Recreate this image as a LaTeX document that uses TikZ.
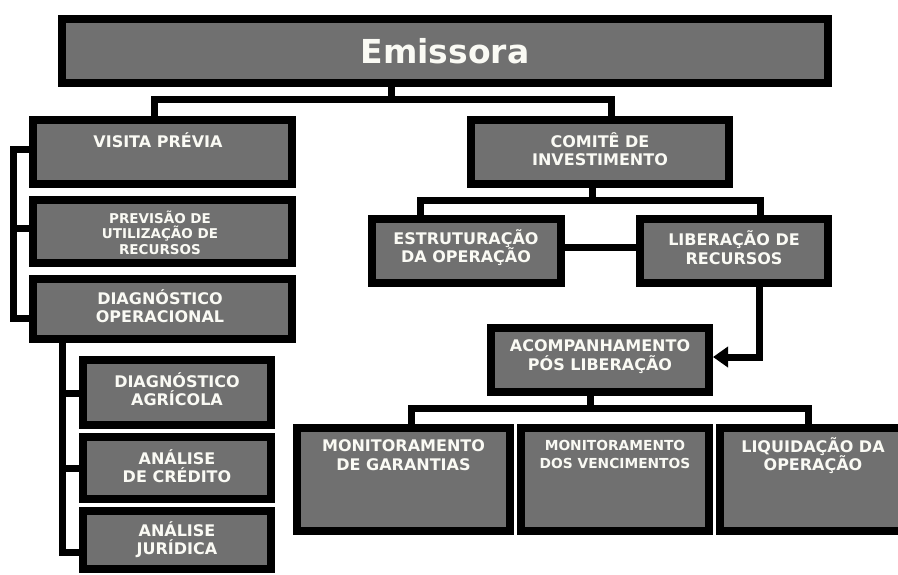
\documentclass[tikz,border=0pt]{standalone}
\usepackage{fontspec}
\setmainfont{DejaVu Sans}
\usetikzlibrary{arrows.meta}
\definecolor{boxgray}{RGB}{112,112,112}
\definecolor{labelwhite}{RGB}{250,250,244}
\tikzset{
  box/.style={draw=black, line width=8pt, fill=boxgray, inner sep=0pt},
  lbl/.style={text=labelwhite, font=\bfseries\fontsize{16}{18.5}\selectfont, align=center, inner sep=0pt},
  lblsmall/.style={lbl, font=\bfseries\fontsize{13.5}{15.5}\selectfont},
  lblmid/.style={lbl, font=\bfseries\fontsize{13.8}{18}\selectfont},
  conn/.style={draw=black, line width=7pt},
  arrowconn/.style={conn, -{Triangle[length=15pt,width=20pt]}}
}
\begin{document}
\begin{tikzpicture}[x=1pt, y=-1pt]
\useasboundingbox (0,0) rectangle (898,574);
\clip (0,0) rectangle (898,574);

% ---- boxes ----
\node[box, minimum width=766pt, minimum height=64pt] (emissora) at (445,51) {};
\node[box, minimum width=259pt, minimum height=64pt] (visita)   at (162.5,152) {};
\node[box, minimum width=259pt, minimum height=63pt] (previsao) at (162.5,231.5) {};
\node[box, minimum width=259pt, minimum height=60pt] (diagop)   at (162.5,309) {};
\node[box, minimum width=188pt, minimum height=65pt] (diagagr)  at (177,392.5) {};
\node[box, minimum width=188pt, minimum height=62pt] (credito)  at (177,468) {};
\node[box, minimum width=188pt, minimum height=58pt] (juridica) at (177,540) {};
\node[box, minimum width=258pt, minimum height=64pt] (comite)   at (600,152) {};
\node[box, minimum width=189pt, minimum height=64pt] (estrut)   at (466.5,251) {};
\node[box, minimum width=188pt, minimum height=64pt] (libera)   at (734,251) {};
\node[box, minimum width=218pt, minimum height=64pt] (acomp)    at (600,360) {};
\node[box, minimum width=213pt, minimum height=103pt] (monigar) at (403.5,479.5) {};
\node[box, minimum width=188pt, minimum height=103pt] (monivenc) at (615,479.5) {};
\node[box, minimum width=186pt, minimum height=103pt] (liquid)  at (813,479.5) {};

% ---- labels ----
\node[lbl, font=\bfseries\fontsize{33}{36}\selectfont] (emissora-t) at (445,51) {Emissora};
\node[lbl] (visita-t) at (158,140) {VISITA PRÉVIA};
\node[lblsmall] (previsao-t) at (160,232.5) {PREVISÃO DE\\UTILIZAÇÃO DE\\RECURSOS};
\node[lbl] (diagop-t) at (160,306) {DIAGNÓSTICO\\OPERACIONAL};
\node[lbl] (diagagr-t) at (177,389) {DIAGNÓSTICO\\AGRÍCOLA};
\node[lbl] (credito-t) at (177,466) {ANÁLISE\\DE CRÉDITO};
\node[lbl] (juridica-t) at (177,539.5) {ANÁLISE\\JURÍDICA};
\node[lbl] (comite-t) at (600,149) {COMITÊ DE\\INVESTIMENTO};
\node[lbl] (estrut-t) at (466,247.5) {ESTRUTURAÇÃO\\DA OPERAÇÃO};
\node[lbl] (libera-t) at (734,247.5) {LIBERAÇÃO DE\\RECURSOS};
\node[lbl] (acomp-t) at (600,356.5) {ACOMPANHAMENTO\\PÓS LIBERAÇÃO};
\node[lbl] (monigar-t) at (403.5,455) {MONITORAMENTO\\DE GARANTIAS};
\node[lblmid] (monivenc-t) at (615,454) {MONITORAMENTO\\DOS VENCIMENTOS};
\node[lbl] (liquid-t) at (813,455.5) {LIQUIDAÇÃO DA\\OPERAÇÃO};

% ---- bend points of the connectors ----
\coordinate (e0) at (391,99);
\coordinate (e1) at (154,99);
\coordinate (e2) at (611,99);
\coordinate (b1) at (13,149);
\coordinate (b2) at (13,228);
\coordinate (b3) at (13,318);
\coordinate (c0) at (62,343);
\coordinate (c1) at (62,393);
\coordinate (c2) at (62,468);
\coordinate (c3) at (62,552);
\coordinate (k0) at (592,200);
\coordinate (k1) at (420,200);
\coordinate (k2) at (760,200);
\coordinate (h0) at (565,247);
\coordinate (a1) at (759,357);
\coordinate (m0) at (590,408);
\coordinate (m1) at (411,408);
\coordinate (m2) at (808,408);

% ---- connectors ----
\draw[conn] (emissora.south -| e0) -- (e0);
\draw[conn] (visita.north -| e1) -- (e1) -- (e2) -- (comite.north -| e2);

\draw[conn] (visita.west |- b1) -- (b1) -- (b3) -- (diagop.west |- b3);
\draw[conn] (b2) -- (previsao.west |- b2);

\draw[conn] (diagop.south -| c0) -- (c3) -- (juridica.west |- c3);
\draw[conn] (c1) -- (diagagr.west |- c1);
\draw[conn] (c2) -- (credito.west |- c2);

\draw[conn] (comite.south -| k0) -- (k0);
\draw[conn] (estrut.north -| k1) -- (k1) -- (k2) -- (libera.north -| k2);
\draw[conn] (estrut.east |- h0) -- (libera.west |- h0);

\draw[arrowconn] (libera.south -| a1) -- (a1) -- (acomp.east |- a1);

\draw[conn] (acomp.south -| m0) -- (m0);
\draw[conn] (monigar.north -| m1) -- (m1) -- (m2) -- (liquid.north -| m2);
\end{tikzpicture}
\end{document}
